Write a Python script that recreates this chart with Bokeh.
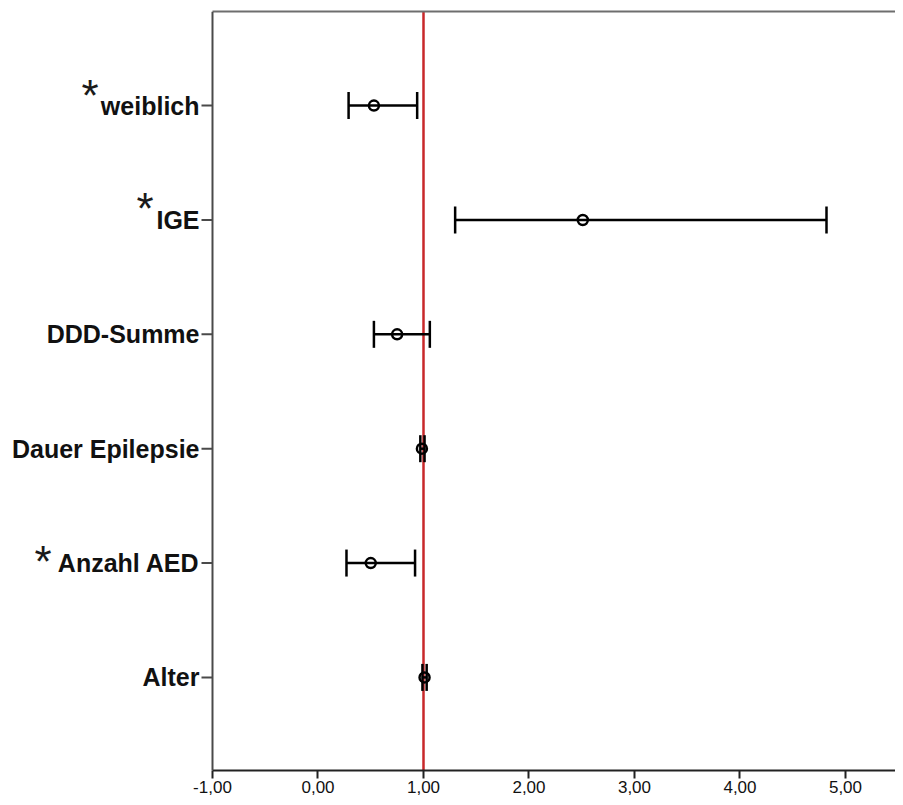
from bokeh.plotting import figure
from bokeh.models import (Range1d, FixedTicker, Whisker, TeeHead, Span,
                          LinearAxis, ColumnDataSource)
from bokeh.core.properties import value
from bokeh.embed import file_html
from bokeh.resources import INLINE

# ---- data ----
variables = ["weiblich", "IGE", "DDD-Summe", "Dauer Epilepsie", "Anzahl AED", "Alter"]
odds_ratio = [0.53, 2.51, 0.75, 0.985, 0.50, 1.01]
ci_lower = [0.29, 1.30, 0.53, 0.97, 0.27, 0.99]
ci_upper = [0.94, 4.82, 1.06, 1.01, 0.92, 1.03]
significant = [True, True, False, False, True, False]
x_ticks = [-1, 0, 1, 2, 3, 4, 5]
x_tick_labels = ["-1,00", "0,00", "1,00", "2,00", "3,00", "4,00", "5,00"]
reference_value = 1.0
x_axis_start, x_axis_end = -1, 5.474

# ---- layout / style ----
W, H = 895, 797
B_TOP, B_BOTTOM = 11, 27
PX_PER_UNIT = 105.5
LEFT_MARGIN_PX = 212          # room for the category labels
Y0, Y1 = 0.186, 6.823
TICK_PX = 11
star_dx = {"weiblich": 89.5 - 212, "IGE": 144.5 - 212, "Anzahl AED": 42.5 - 212}
star_dy = {"weiblich": -10.6, "IGE": -11.6, "Anzahl AED": -1.6}

ypos = list(range(len(variables), 0, -1))
x_view_start = x_axis_start - LEFT_MARGIN_PX / PX_PER_UNIT

src = ColumnDataSource(dict(y=ypos, orat=odds_ratio, lo=ci_lower, hi=ci_upper,
                            name=variables,
                            axis_x=[x_axis_start] * len(ypos),
                            tick_x=[x_axis_start - TICK_PX / PX_PER_UNIT] * len(ypos)))

p = figure(width=W, height=H, output_backend="svg", toolbar_location=None,
           x_range=Range1d(x_view_start, x_axis_end), y_range=Range1d(Y0, Y1),
           y_axis_location=None,
           min_border_left=0, min_border_top=B_TOP, min_border_right=0,
           min_border_bottom=B_BOTTOM)
p.outline_line_color = None
p.grid.visible = False
p.background_fill_color = "white"
p.border_fill_color = "white"

# x axis (line limited to the data region)
xa = p.xaxis[0]
xa.ticker = FixedTicker(ticks=x_ticks)
xa.bounds = (x_axis_start, x_axis_end)
xa.major_label_overrides = {t: l for t, l in zip(x_ticks, x_tick_labels)}
xa.axis_line_color = "#222222"
xa.axis_line_width = 2
xa.major_tick_line_color = "#222222"
xa.major_tick_line_width = 2
xa.major_tick_in = 0
xa.major_tick_out = 8
xa.minor_tick_line_color = None
xa.major_label_standoff = 2
xa.major_label_text_font = "Liberation Sans"
xa.major_label_text_font_size = "17px"
xa.major_label_text_color = "#111111"

# top border
top = LinearAxis(ticker=FixedTicker(ticks=[]), bounds=(x_axis_start, x_axis_end),
                 axis_line_color="#6e6e6e", axis_line_width=2,
                 major_tick_line_color=None, minor_tick_line_color=None,
                 major_label_text_font_size="0px")
p.add_layout(top, "above")

# left axis line, ticks and category labels
p.add_layout(Span(location=x_axis_start, dimension="height",
                  line_color="#4a4a4a", line_width=2))
p.segment(x0="tick_x", y0="y", x1="axis_x", y1="y", source=src,
          line_color="#4a4a4a", line_width=2)
p.text(x="axis_x", y="y", text="name", source=src, x_offset=-(TICK_PX + 2),
       text_align="right", text_baseline="middle",
       text_font=value("Liberation Sans"), text_font_style="bold",
       text_font_size="25px", text_color="#111111")

# reference line
p.add_layout(Span(location=reference_value, dimension="height",
                  line_color="#c8282a", line_width=2.5, level="underlay"))

# error bars
p.add_layout(Whisker(source=src, base="y", lower="lo", upper="hi",
                     dimension="width", line_color="black", line_width=2.5,
                     upper_head=TeeHead(size=27, line_width=2.5, line_color="black"),
                     lower_head=TeeHead(size=27, line_width=2.5, line_color="black")))

# point estimates
p.scatter("orat", "y", source=src, size=10, marker="circle",
          fill_color=None, line_color="black", line_width=2.5)

# significance asterisks
sig_names = [n for n, s in zip(variables, significant) if s]
sig_y = [y for y, s in zip(ypos, significant) if s]
star_src = ColumnDataSource(dict(
    x=[x_axis_start] * len(sig_y), y=sig_y, t=["*"] * len(sig_y),
    dx=[star_dx[n] for n in sig_names], dy=[star_dy[n] for n in sig_names]))
p.text(x="x", y="y", text="t", x_offset="dx", y_offset="dy", source=star_src,
       text_align="center", text_baseline="middle",
       text_font=value("Liberation Sans"), text_font_size="44px",
       text_color="#1a1a1a")

open("out.html", "w").write(file_html(p, INLINE))
